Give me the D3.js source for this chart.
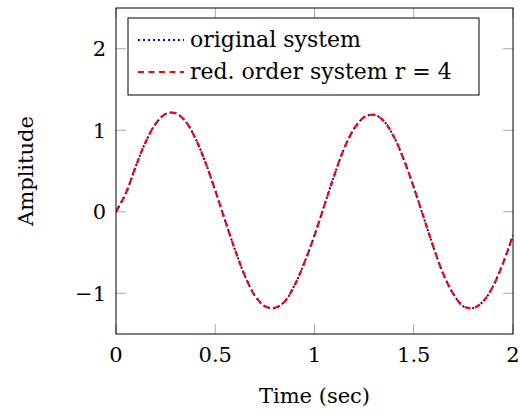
<!DOCTYPE html>
<html>
<head>
<meta charset="utf-8">
<script src="https://cdn.jsdelivr.net/npm/d3@7"></script>
<style>
  body { margin: 0; background: #fff; }
  text { font-family: "DejaVu Serif", "Liberation Serif", serif; }
</style>
</head>
<body>
<div id="container"></div>
<script>
// values
const times = [0, 0.05, 0.1, 0.15, 0.2, 0.25, 0.3, 0.35, 0.4, 0.45, 0.5, 0.55, 0.6, 0.65, 0.7, 0.75, 0.8, 0.85, 0.9, 0.95,
    1, 1.05, 1.1, 1.15, 1.2, 1.25, 1.3, 1.35, 1.4, 1.45, 1.5, 1.55, 1.6, 1.65, 1.7, 1.75, 1.8, 1.85, 1.9, 1.95, 2]
const original = [0, 0.23, 0.56, 0.86, 1.08, 1.2, 1.21, 1.11, 0.9, 0.61, 0.26, -0.11, -0.47, -0.79, -1.03, -1.16, -1.18, -1.1, -0.9, -0.62,
    -0.29, 0.08, 0.45, 0.78, 1.02, 1.16, 1.19, 1.11, 0.92, 0.64, 0.3, -0.07, -0.44, -0.77, -1.01, -1.16, -1.18, -1.1, -0.91, -0.63, -0.29]
const reduced = [0, 0.23, 0.56, 0.86, 1.08, 1.2, 1.21, 1.11, 0.9, 0.61, 0.26, -0.11, -0.47, -0.79, -1.03, -1.16, -1.18, -1.1, -0.9, -0.62,
    -0.29, 0.08, 0.45, 0.78, 1.02, 1.16, 1.19, 1.11, 0.92, 0.64, 0.3, -0.07, -0.44, -0.77, -1.01, -1.16, -1.18, -1.1, -0.91, -0.63, -0.29]
const xTicks = [0, 0.5, 1, 1.5, 2]
const yTicks = [-1, 0, 1, 2]
const seriesNames = ['original system', 'red. order system r = 4']

const width = 520
const height = 415
const margin = { top: 8, right: 7, bottom: 81, left: 116 }

const svg = d3.select('#container').append('svg')
    .attr('width', width).attr('height', height)

const xScale = d3.scaleLinear().domain([0, 2])
    .range([margin.left, width - margin.right])
const yScale = d3.scaleLinear().domain([-1.5, 2.5])
    .range([height - margin.bottom, margin.top])

const tickLen = 10
const tickColor = '#a8a8a8'

// inward ticks on all four sides
const ticks = svg.append('g').attr('stroke', tickColor).attr('stroke-width', 1)
ticks.selectAll('.xb').data(xTicks).enter().append('line')
    .attr('x1', d => xScale(d)).attr('x2', d => xScale(d))
    .attr('y1', yScale(-1.5)).attr('y2', yScale(-1.5) - tickLen)
ticks.selectAll('.xt').data(xTicks).enter().append('line')
    .attr('x1', d => xScale(d)).attr('x2', d => xScale(d))
    .attr('y1', yScale(2.5)).attr('y2', yScale(2.5) + tickLen)
ticks.selectAll('.yl').data(yTicks).enter().append('line')
    .attr('y1', d => yScale(d)).attr('y2', d => yScale(d))
    .attr('x1', xScale(0)).attr('x2', xScale(0) + tickLen)
ticks.selectAll('.yr').data(yTicks).enter().append('line')
    .attr('y1', d => yScale(d)).attr('y2', d => yScale(d))
    .attr('x1', xScale(2)).attr('x2', xScale(2) - tickLen)

// tick labels
const fmt = d => d < 0 ? '\u2212' + Math.abs(d) : String(d)
svg.append('g').selectAll('text').data(xTicks).enter().append('text')
    .attr('x', d => xScale(d)).attr('y', 362)
    .attr('text-anchor', 'middle').attr('font-size', 21)
    .text(fmt)
svg.append('g').selectAll('text').data(yTicks).enter().append('text')
    .attr('x', xScale(0) - 10).attr('y', d => yScale(d) + 7.5)
    .attr('text-anchor', 'end').attr('font-size', 21)
    .text(fmt)

// axis titles
svg.append('text')
    .attr('x', (xScale(0) + xScale(2)) / 2).attr('y', 403)
    .attr('text-anchor', 'middle').attr('font-size', 21)
    .text('Time (sec)')
svg.append('text')
    .attr('transform', `translate(33, ${yScale(0.5)}) rotate(-90)`)
    .attr('text-anchor', 'middle').attr('font-size', 21)
    .text('Amplitude')

// curves
const clipId = 'plot-clip'
svg.append('clipPath').attr('id', clipId).append('rect')
    .attr('x', xScale(0)).attr('y', yScale(2.5))
    .attr('width', xScale(2) - xScale(0)).attr('height', yScale(-1.5) - yScale(2.5))

const line = d3.line()
    .x((d, i) => xScale(times[i]))
    .y(d => yScale(d))
    .curve(d3.curveCatmullRom)

const blueDash = '2,3'
const redDash = '6,4.5'

const plot = svg.append('g').attr('clip-path', `url(#${clipId})`)
plot.append('path').datum(original)
    .attr('d', line).attr('fill', 'none')
    .attr('stroke', '#0000ff').attr('stroke-width', 2)
    .attr('stroke-dasharray', blueDash)
plot.append('path').datum(reduced)
    .attr('d', line).attr('fill', 'none')
    .attr('stroke', '#ff0000').attr('stroke-width', 2.2)
    .attr('stroke-dasharray', redDash)

// frame
svg.append('rect')
    .attr('x', xScale(0)).attr('y', yScale(2.5))
    .attr('width', xScale(2) - xScale(0)).attr('height', yScale(-1.5) - yScale(2.5))
    .attr('fill', 'none').attr('stroke', '#000').attr('stroke-width', 1)

// legend
const legend = svg.append('g').attr('transform', 'translate(128, 18)')
legend.append('rect')
    .attr('x', 0).attr('y', 0).attr('width', 351).attr('height', 77)
    .attr('fill', '#fff').attr('stroke', '#000').attr('stroke-width', 1)
const legendStyles = [
    { color: '#0000ff', width: 2, dash: blueDash },
    { color: '#ff0000', width: 2.2, dash: redDash }
]
seriesNames.forEach((name, i) => {
    const y = 22 + i * 32
    legend.append('line')
        .attr('x1', 10).attr('x2', 56).attr('y1', y).attr('y2', y)
        .attr('stroke', legendStyles[i].color)
        .attr('stroke-width', legendStyles[i].width)
        .attr('stroke-dasharray', legendStyles[i].dash)
    legend.append('text')
        .attr('x', 62).attr('y', y + 7)
        .attr('font-size', 22)
        .text(name)
})
</script>
</body>
</html>
